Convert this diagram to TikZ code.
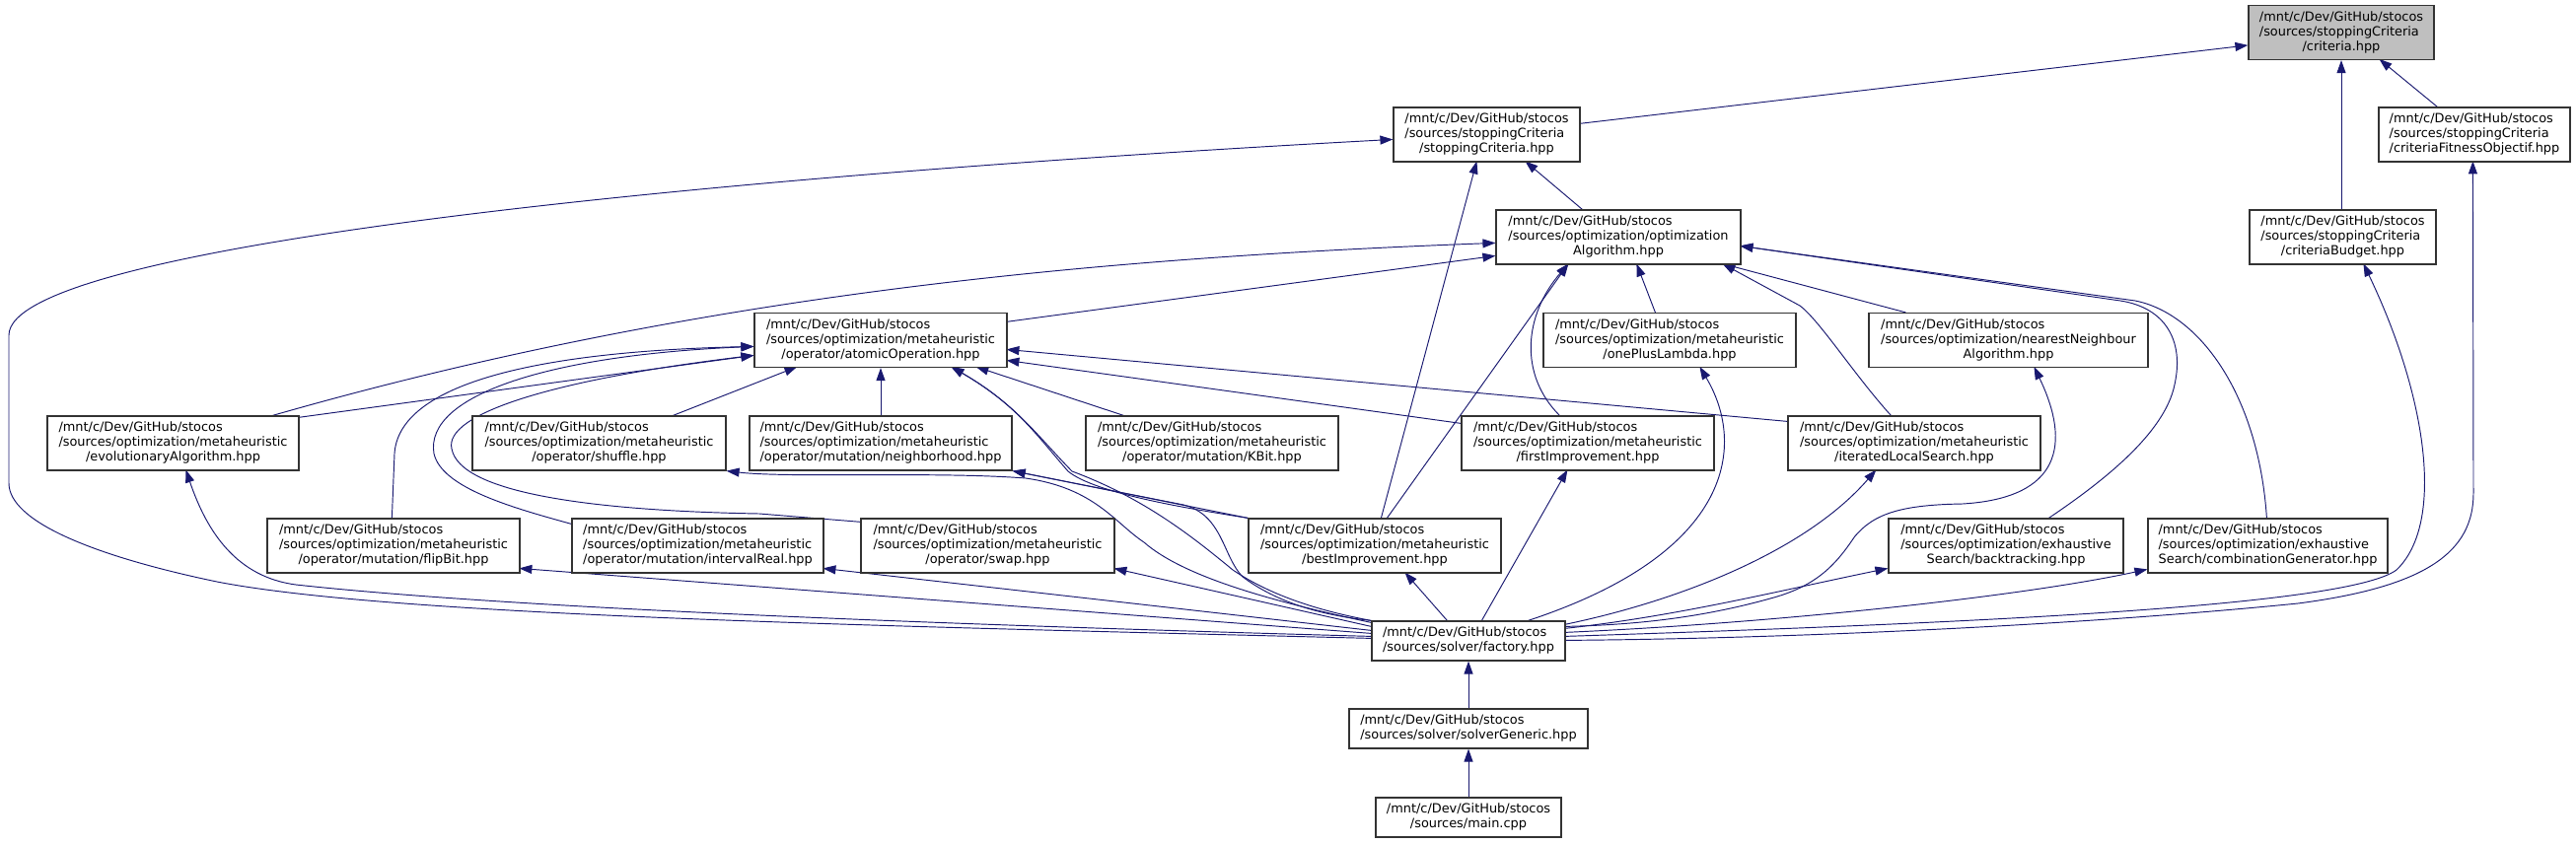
\documentclass[tikz,border=0pt]{standalone}
\usepackage{fontspec}
\setmainfont{DejaVu Sans}
\usetikzlibrary{arrows.meta}
\definecolor{edgeblue}{HTML}{191970}
\definecolor{rootgray}{HTML}{BFBFBF}
\newcommand\stocos{/mnt/c/Dev/GitHub/stocos}
\newcommand\lblthree[3]{\begin{tabular}{@{}l@{}}#1\\#2\\\multicolumn{1}{@{}c@{}}{#3}\end{tabular}}
\newcommand\lbltwo[2]{\begin{tabular}{@{}l@{}}#1\\\multicolumn{1}{@{}c@{}}{#2}\end{tabular}}
\newcommand\nodefont{\fontsize{12.9}{15}\selectfont}
\pgfdeclarelayer{bg}
\pgfsetlayers{bg,main}
\begin{document}
\begin{tikzpicture}[x=1pt,y=-1pt,
  file/.style={rectangle, draw=black!80, line width=1.2pt, fill=white, inner sep=0pt, minimum height=55pt, font=\nodefont},
  file2/.style={file, minimum height=40pt},
  dep/.style={draw=edgeblue, line width=0.95pt, {Triangle[length=13pt,width=9pt]}-}]
\useasboundingbox (0,0) rectangle (2612,855);
% nodes
\node[file, fill=rootgray, minimum width=188pt] (crit) at (2374,33) {\lblthree{\stocos}{/sources/stoppingCriteria}{/criteria.hpp}};
\node[file, minimum width=189pt] (stop) at (1507.5,136.5) {\lblthree{\stocos}{/sources/stoppingCriteria}{/stoppingCriteria.hpp}};
\node[file, minimum width=194pt] (cfo) at (2509,136.5) {\lblthree{\stocos}{/sources/stoppingCriteria}{/criteriaFitnessObjectif.hpp}};
\node[file, minimum width=248pt] (opt) at (1641,240.5) {\lblthree{\stocos}{/sources/optimization/optimization}{Algorithm.hpp}};
\node[file, minimum width=189pt] (cbud) at (2375.5,240.5) {\lblthree{\stocos}{/sources/stoppingCriteria}{/criteriaBudget.hpp}};
\node[file, minimum width=256pt] (atom) at (893,345) {\lblthree{\stocos}{/sources/optimization/metaheuristic}{/operator/atomicOperation.hpp}};
\node[file, minimum width=256pt] (opl) at (1693,345) {\lblthree{\stocos}{/sources/optimization/metaheuristic}{/onePlusLambda.hpp}};
\node[file, minimum width=283pt] (nna) at (2036.5,345) {\lblthree{\stocos}{/sources/optimization/nearestNeighbour}{Algorithm.hpp}};
\node[file, minimum width=255pt] (evo) at (175.5,449.5) {\lblthree{\stocos}{/sources/optimization/metaheuristic}{/evolutionaryAlgorithm.hpp}};
\node[file, minimum width=257pt] (shuf) at (607.5,449.5) {\lblthree{\stocos}{/sources/optimization/metaheuristic}{/operator/shuffle.hpp}};
\node[file, minimum width=266pt] (neigh) at (893,449.5) {\lblthree{\stocos}{/sources/optimization/metaheuristic}{/operator/mutation/neighborhood.hpp}};
\node[file, minimum width=256pt] (kbit) at (1229,449.5) {\lblthree{\stocos}{/sources/optimization/metaheuristic}{/operator/mutation/KBit.hpp}};
\node[file, minimum width=256pt] (first) at (1610,449.5) {\lblthree{\stocos}{/sources/optimization/metaheuristic}{/firstImprovement.hpp}};
\node[file, minimum width=256pt] (ils) at (1941,449.5) {\lblthree{\stocos}{/sources/optimization/metaheuristic}{/iteratedLocalSearch.hpp}};
\node[file, minimum width=256pt] (flip) at (399,553.5) {\lblthree{\stocos}{/sources/optimization/metaheuristic}{/operator/mutation/flipBit.hpp}};
\node[file, minimum width=255pt] (ireal) at (707.5,553.5) {\lblthree{\stocos}{/sources/optimization/metaheuristic}{/operator/mutation/intervalReal.hpp}};
\node[file, minimum width=257pt] (swap) at (1001.5,553.5) {\lblthree{\stocos}{/sources/optimization/metaheuristic}{/operator/swap.hpp}};
\node[file, minimum width=256pt] (best) at (1394,553.5) {\lblthree{\stocos}{/sources/optimization/metaheuristic}{/bestImprovement.hpp}};
\node[file, minimum width=238pt] (back) at (2034,553.5) {\lblthree{\stocos}{/sources/optimization/exhaustive}{Search/backtracking.hpp}};
\node[file, minimum width=243pt] (comb) at (2299.5,553.5) {\lblthree{\stocos}{/sources/optimization/exhaustive}{Search/combinationGenerator.hpp}};
\node[file2, minimum width=196pt] (fact) at (1489,650) {\lbltwo{\stocos}{/sources/solver/factory.hpp}};
\node[file2, minimum width=242pt] (solv) at (1489,739) {\lbltwo{\stocos}{/sources/solver/solverGeneric.hpp}};
\node[file2, minimum width=188pt] (mainf) at (1489,829) {\lbltwo{\stocos}{/sources/main.cpp}};
% edges
\begin{pgfonlayer}{bg}
\draw[dep] ([shift={(0,41)}]crit.north west) -- ([shift={(189,17)}]stop.north west);
\draw[dep] ([shift={(133,55)}]crit.north west) -- ([shift={(60,0)}]cfo.north west);
\draw[dep] (crit.south) -- (crit.south |- cbud.north);
\draw[dep] ([shift={(134,55)}]stop.north west) -- ([shift={(88,0)}]opt.north west);
\draw[dep] ([shift={(85,55)}]stop.north west) -- ([shift={(135,0)}]best.north west);
\draw[dep] ([shift={(0,33)}]stop.north west) .. controls (700,180) and (9,250) .. (9,340) -- (9,490) .. controls (9,530) and (100,565) .. (220,590) .. controls (400,625) and (900,635) .. ([shift={(0,18)}]fact.north west);
% optimizationAlgorithm
\draw[dep] ([shift={(0,34)}]opt.north west) .. controls (1100,262) and (700,300) .. ([shift={(229,0)}]evo.north west);
\draw[dep] ([shift={(0,47)}]opt.north west) -- ([shift={(256,9.5)}]atom.north west);
\draw[dep] ([shift={(74,55)}]opt.north west) -- ([shift={(141,0)}]best.north west);
\draw[dep] ([shift={(74,55)}]opt.north west) .. controls (1545,320) and (1540,380) .. ([shift={(100,0)}]first.north west);
\draw[dep] ([shift={(143,55)}]opt.north west) -- ([shift={(114,0)}]opl.north west);
\draw[dep] ([shift={(230,55)}]opt.north west) -- ([shift={(38,0)}]nna.north west);
\draw[dep] ([shift={(230,55)}]opt.north west) -- (1825,310) .. controls (1845,325) and (1880,380) .. ([shift={(105,0)}]ils.north west);
\draw[dep] ([shift={(248,37)}]opt.north west) -- (2150,305) .. controls (2195,312) and (2215,345) .. (2205,390) .. controls (2195,440) and (2130,490) .. ([shift={(163,0)}]back.north west);
\draw[dep] ([shift={(248,37)}]opt.north west) -- (2165,305) .. controls (2230,318) and (2290,400) .. ([shift={(121,0)}]comb.north west);
% atomicOperation
\draw[dep] ([shift={(0,43.5)}]atom.north west) -- ([shift={(255,2)}]evo.north west);
\draw[dep] ([shift={(0,34.5)}]atom.north west) .. controls (560,356) and (405,385) .. (400,460) -- ([shift={(127,0)}]flip.north west);
\draw[dep] ([shift={(0,34.5)}]atom.north west) .. controls (560,360) and (430,400) .. (440,460) .. controls (448,495) and (520,515) .. ([shift={(0,6)}]ireal.north west);
\draw[dep] ([shift={(0,43.5)}]atom.north west) .. controls (560,385) and (450,420) .. (458,455) .. controls (466,500) and (600,518) .. (770,521) -- ([shift={(1,4)}]swap.north west);
\draw[dep] ([shift={(44,55)}]atom.north west) -- ([shift={(204,0)}]shuf.north west);
\draw[dep] (atom.south) -- (neigh.north);
\draw[dep] ([shift={(200,55)}]atom.north west) .. controls (1030,410) and (1050,440) .. (1083,478) .. controls (1110,500) and (1200,515) .. (best.north west);
\draw[dep] ([shift={(200,55)}]atom.north west) .. controls (1030,410) and (1050,440) .. (1087,478) .. controls (1160,505) and (1210,545) .. (1250,578) .. controls (1290,605) and (1340,620) .. (fact.north west);
\draw[dep] ([shift={(225,55)}]atom.north west) -- ([shift={(39,0)}]kbit.north west);
\draw[dep] ([shift={(256,48.5)}]atom.north west) -- ([shift={(0,8)}]first.north west);
\draw[dep] ([shift={(256,37.5)}]atom.north west) -- ([shift={(0,6)}]ils.north west);
% neighborhood, shuffle
\draw[dep] (neigh.south east) -- (best.north west);
\draw[dep] (neigh.south east) -- (1200,512) .. controls (1240,522) and (1240,565) .. (1260,585) .. controls (1300,615) and (1350,625) .. (fact.north west);
\draw[dep] (shuf.south east) .. controls (800,485) and (950,478) .. (1040,485) .. controls (1110,495) and (1130,530) .. (1160,550) .. controls (1200,585) and (1290,610) .. ([shift={(0,2)}]fact.north west);
% into factory from the left
\draw[dep] ([shift={(141,55)}]evo.north west) .. controls (210,540) and (240,585) .. (300,593) .. controls (500,615) and (900,632) .. ([shift={(0,16)}]fact.north west);
\draw[dep] ([shift={(256,51)}]flip.north west) -- ([shift={(0,13)}]fact.north west);
\draw[dep] ([shift={(255,51)}]ireal.north west) -- ([shift={(0,10)}]fact.north west);
\draw[dep] ([shift={(257,51)}]swap.north west) -- ([shift={(0,6)}]fact.north west);
% into factory from above
\draw[dep] ([shift={(159,55)}]best.north west) -- ([shift={(77,0)}]fact.north west);
\draw[dep] ([shift={(108,55)}]first.north west) -- ([shift={(112,0)}]fact.north west);
\draw[dep] ([shift={(159,55)}]opl.north west) .. controls (1770,450) and (1760,560) .. ([shift={(159,0)}]fact.north west);
% into factory from the right
\draw[dep] ([shift={(90,55)}]ils.north west) .. controls (1830,560) and (1700,610) .. ([shift={(196,4)}]fact.north west);
\draw[dep] ([shift={(168,55)}]nna.north west) .. controls (2100,450) and (2090,505) .. (1990,511) .. controls (1930,512) and (1900,520) .. (1880,545) .. controls (1860,575) and (1840,595) .. (1795,607) .. controls (1720,628) and (1650,634) .. ([shift={(196,6)}]fact.north west);
\draw[dep] ([shift={(0,51)}]back.north west) .. controls (1800,600) and (1700,625) .. ([shift={(196,8)}]fact.north west);
\draw[dep] ([shift={(0,52)}]comb.north west) .. controls (2050,605) and (1800,632) .. ([shift={(196,12)}]fact.north west);
\draw[dep] ([shift={(116,55)}]cbud.north west) .. controls (2460,400) and (2480,530) .. (2430,578) .. controls (2380,615) and (2000,632) .. ([shift={(196,16)}]fact.north west);
\draw[dep] ([shift={(96,55)}]cfo.north west) -- (2508,500) .. controls (2508,560) and (2460,595) .. (2330,612) .. controls (2100,635) and (1800,648) .. ([shift={(196,20)}]fact.north west);
% bottom chain
\draw[dep] (fact.south) -- (solv.north);
\draw[dep] (solv.south) -- (mainf.north);
\end{pgfonlayer}
\end{tikzpicture}
\end{document}
